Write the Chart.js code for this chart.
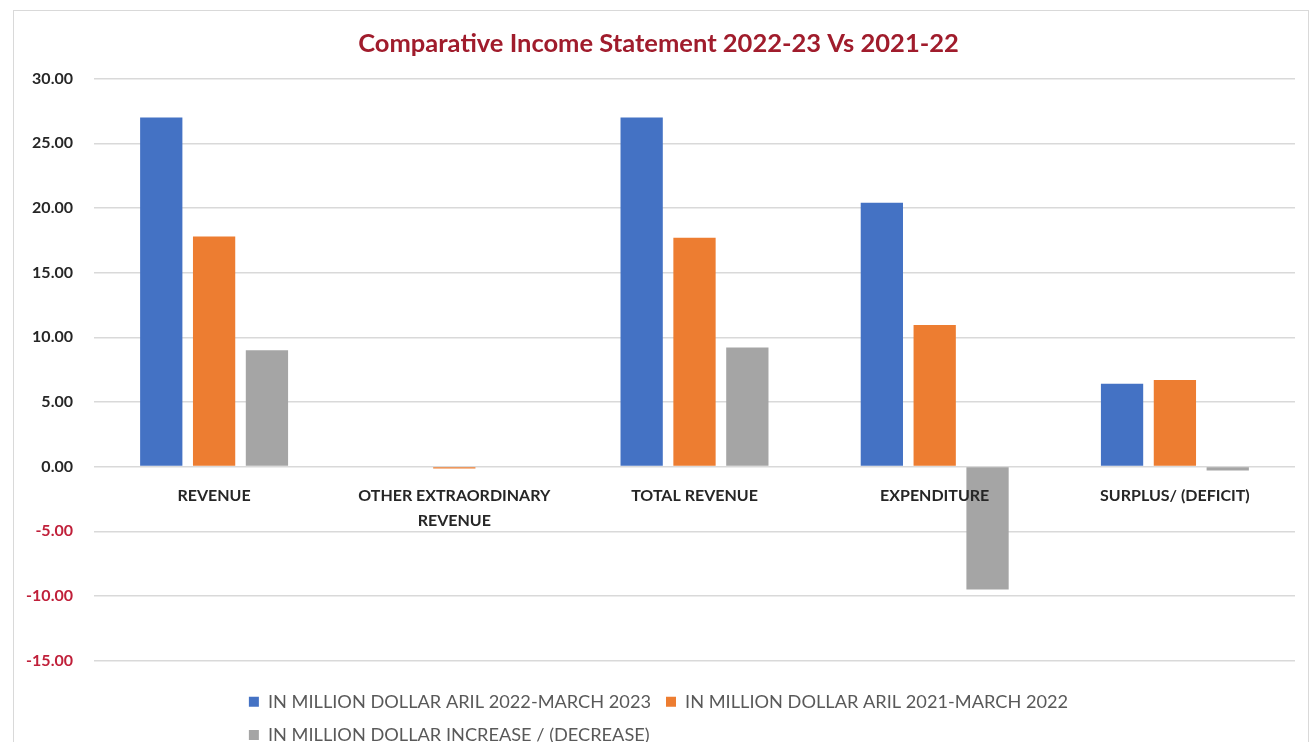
<!DOCTYPE html>
<html>
<head>
<meta charset="utf-8">
<script src="https://cdn.jsdelivr.net/npm/chart.js@4/dist/chart.umd.min.js"></script>
<style>
  html, body { margin: 0; padding: 0; background: #fff; overflow: hidden; }
  #box { position: absolute; left: 13px; top: 10px; width: 1294px; height: 758px; border: 1px solid #d9d9d9; }
</style>
</head>
<body>
<div id="box"><canvas id="chart"></canvas></div>
<script>
var categories = ['REVENUE', ['OTHER EXTRAORDINARY', 'REVENUE'], 'TOTAL REVENUE', 'EXPENDITURE', 'SURPLUS/ (DEFICIT)'];
var seriesNames = ['IN MILLION DOLLAR ARIL 2022-MARCH 2023', 'IN MILLION DOLLAR ARIL 2021-MARCH 2022', 'IN MILLION DOLLAR INCREASE / (DECREASE)'];
var year2023 = [27.0, 0.0, 27.0, 20.4, 6.4];
var year2022 = [17.8, -0.15, 17.7, 10.95, 6.7];
var change = [9.0, 0.0, 9.2, -9.5, -0.3];
var colors = ['#4472C4', '#ED7D31', '#A5A5A5'];

// wrap the third legend item onto a second row and start both rows at the same x, like Excel does
var legendWrap = {
  id: 'legendWrap',
  beforeUpdate: function(chart) {
    var legend = chart.legend;
    if (legend && !legend._wrapped) {
      var fit = legend.fit;
      legend.fit = function() {
        this.maxWidth = Math.min(this.maxWidth, 1000);
        fit.call(this);
        var widest = Math.max.apply(null, this.lineWidths);
        this.lineWidths = this.lineWidths.map(function() { return widest; });
      };
      legend._wrapped = true;
    }
  }
};

var ctx = document.getElementById('chart').getContext('2d');
var values = [year2023, year2022, change];
var datasets = [];
for (var i = 0; i < values.length; i++) {
  datasets.push({
    label: seriesNames[i],
    data: values[i],
    backgroundColor: colors[i],
    barPercentage: 0.8,
    categoryPercentage: 0.66
  });
}

var chart = new Chart(ctx, {
  type: 'bar',
  data: { labels: categories, datasets: datasets },
  plugins: [legendWrap],
  options: {
    responsive: true,
    maintainAspectRatio: false,
    animation: false,
    layout: { padding: { top: 10, left: 8, right: 13, bottom: 15 } },
    plugins: {
      title: {
        display: true,
        text: 'Comparative Income Statement 2022-23 Vs 2021-22',
        color: '#A01C2C',
        font: { family: 'Lato', size: 25.5, weight: 'bold', lineHeight: 1.2 },
        padding: { top: 7, bottom: 20 }
      },
      legend: {
        position: 'bottom',
        title: { display: true, text: '', padding: 0, font: { size: 17, lineHeight: 1 } },
        labels: {
          boxWidth: 10,
          boxHeight: 10,
          padding: 15,
          color: '#595959',
          font: { family: 'Lato', size: 18.2 }
        }
      },
      tooltip: { enabled: false }
    },
    scales: {
      x: {
        position: { y: 0 },
        grid: { display: false },
        border: { display: false },
        ticks: {
          z: 1,
          color: '#262626',
          padding: 9,
          maxRotation: 0,
          autoSkip: false,
          font: { family: 'Lato', size: 16, weight: 'bold', lineHeight: 1.55 }
        }
      },
      y: {
        min: -15,
        max: 30,
        afterFit: function(scale) { scale.width = 72; },
        grid: { color: '#d9d9d9', lineWidth: 1.5, drawTicks: false },
        border: { display: false },
        ticks: {
          stepSize: 5,
          padding: 21,
          font: { family: 'Lato', size: 16, weight: 'bold' },
          color: function(c) { return c.tick && c.tick.value < 0 ? '#C0203A' : '#262626'; },
          callback: function(v) { return v.toFixed(2); }
        }
      }
    }
  }
});
</script>
</body>
</html>
